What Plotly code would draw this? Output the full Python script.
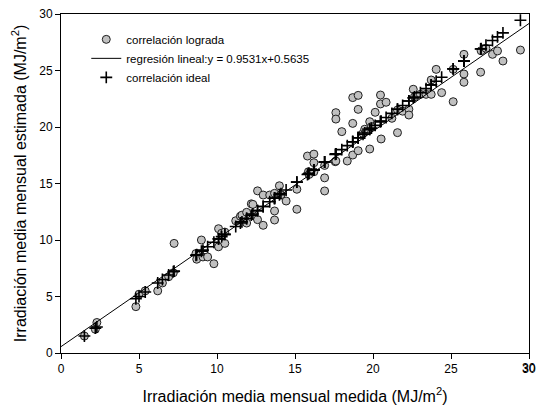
import numpy as np
import plotly.graph_objects as go

# measured (x) and estimated (y) monthly mean irradiation, MJ/m2
medida = [1.5, 2.2, 2.3, 4.8, 5.0, 5.4, 6.2, 6.5, 6.9, 7.2, 7.25,
          8.65, 8.7, 9.0, 9.1, 9.4, 9.8, 10.1, 10.1, 10.3, 10.5, 10.5,
          11.2, 11.5, 11.6, 11.9, 11.9, 12.2, 12.3, 12.6, 12.6, 12.96, 12.96,
          13.38, 13.69, 13.69, 13.69, 14.0, 14.1, 14.43, 15.12, 15.12,
          15.8, 15.86, 15.9, 16.21, 16.21, 16.21, 16.9, 16.9, 16.9,
          17.58, 17.62, 17.62, 17.62, 18.0, 18.35, 18.7, 18.7, 18.7,
          19.05, 19.05, 19.05, 19.36, 19.47, 19.79, 19.79, 19.9, 20.14,
          20.48, 20.48, 20.52, 20.84, 21.21, 21.57, 21.57, 21.9, 22.3, 22.3,
          22.58, 22.66, 23.04, 23.4, 23.73, 23.73, 24.05, 24.4, 25.14, 25.14,
          25.83, 25.83, 25.83, 26.9, 26.93, 27.24, 27.66, 27.98, 28.33, 29.45]
estimada = [1.5, 2.1, 2.7, 4.1, 5.2, 5.5, 5.5, 6.2, 6.75, 7.1, 9.7,
            8.8, 8.3, 10.0, 8.5, 8.5, 7.9, 11.0, 9.4, 10.6, 9.7, 10.7,
            11.7, 12.1, 12.2, 12.45, 11.5, 13.2, 13.15, 14.35, 11.8, 11.3, 13.98,
            13.98, 14.13, 12.57, 11.77, 14.8, 14.0, 13.45, 14.49, 12.72,
            17.43, 16.04, 15.8, 17.6, 16.84, 16.04, 16.6, 15.5, 14.34,
            16.93, 21.27, 20.7, 16.99, 19.59, 16.99, 22.6, 20.32, 17.52,
            22.8, 21.56, 17.9, 19.44, 19.8, 20.47, 18.05, 20.03, 21.3,
            22.83, 22.04, 18.94, 22.19, 20.77, 19.5, 21.5, 21.4, 21.57, 21.06,
            23.34, 22.68, 22.89, 22.89, 24.16, 22.89, 25.1, 23.04, 25.1, 22.24,
            26.43, 24.69, 23.96, 24.85, 26.75, 26.96, 26.43, 26.73, 25.84, 26.81]

tick_vals = [0, 5, 10, 15, 20, 25, 30]
tick_text = ["0", "5", "10", "15", "20", "25", "30"]

pendiente = 0.9531
intercepto = 0.5635
x_linea = [0, 30]
y_linea = [pendiente * v + intercepto for v in x_linea]

font_family = "Liberation Sans, Arial, sans-serif"

fig = go.Figure()
fig.add_trace(go.Scatter(
    x=medida, y=estimada, mode="markers", name="correlación lograda",
    marker=dict(symbol="circle", size=8, color="#c0c0c0",
                line=dict(color="#202020", width=1)),
))
fig.add_trace(go.Scatter(
    x=x_linea, y=y_linea, mode="lines",
    name="regresión lineal:y = 0.9531x+0.5635",
    line=dict(color="black", width=1),
))
fig.add_trace(go.Scatter(
    x=medida, y=medida, mode="markers", name="correlación ideal",
    marker=dict(symbol="cross-thin", size=8.5, color="black",
                line=dict(color="black", width=1.6)),
))

axis_common = dict(
    range=[0, 30], tickmode="array", tickvals=tick_vals, ticktext=tick_text,
    showgrid=False, zeroline=False,
    showline=True, linecolor="black", linewidth=1, mirror=True,
    ticks="outside", ticklen=5, tickcolor="black", tickwidth=1,
    ticklabeloverflow="allow",
    tickfont=dict(family=font_family, size=12, color="black"),
)

# last x tick label (plotly drops it at the page edge), placed at its tick value
fig.add_annotation(x=tick_vals[-1], xref="x", y=0, yref="paper",
                   text=tick_text[-1], showarrow=False, yanchor="top",
                   xanchor="center", yshift=-6,
                   font=dict(family=font_family, size=12, color="black"))

fig.update_layout(
    width=543, height=412,
    margin=dict(l=61, r=7, t=14, b=59),
    paper_bgcolor="white", plot_bgcolor="white",
    font=dict(family=font_family, color="black"),
    showlegend=True,
    legend=dict(x=0.054, y=0.968, xanchor="left", yanchor="top",
                bgcolor="rgba(0,0,0,0)", font=dict(size=11.5),
                tracegroupgap=0, itemwidth=30),
    xaxis=dict(axis_common,
               title=dict(text="Irradiación media mensual medida (MJ/m<sup>2</sup>)",
                          font=dict(size=16), standoff=15)),
    yaxis=dict(axis_common,
               title=dict(text="Irradiación media mensual estimada (MJ/m<sup>2</sup>)",
                          font=dict(size=16), standoff=8)),
)

fig.write_html("out.html")
